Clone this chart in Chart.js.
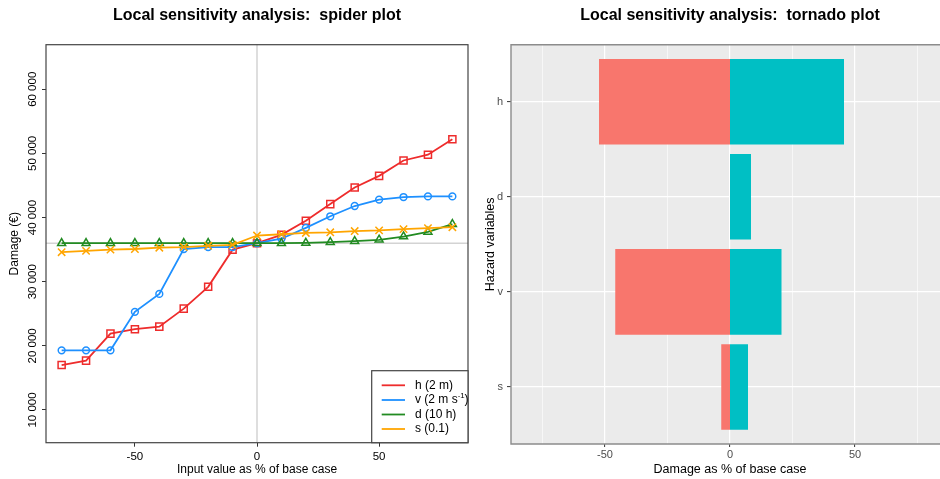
<!DOCTYPE html>
<html>
<head>
<meta charset="utf-8">
<script src="https://cdn.jsdelivr.net/npm/chart.js@4.4.1/dist/chart.umd.min.js"></script>
<style>
  html, body { margin: 0; padding: 0; background: #fff; }
  #wrap { position: relative; width: 940px; height: 479px; overflow: hidden; }
  #spiderBox { position: absolute; left: 0; top: 0; width: 470px; height: 479px; }
  #tornadoBox { position: absolute; left: 470px; top: 0; width: 470px; height: 479px; overflow: hidden; }
</style>
</head>
<body>
<div id="wrap">
  <div id="spiderBox"><canvas id="spider" width="470" height="479"></canvas></div>
  <div id="tornadoBox"><canvas id="tornado" width="479" height="479"></canvas></div>
</div>
<script>
const FONT = "'Liberation Sans', Arial, sans-serif";

// ---- spider plot data ----
const inputPct = [-80, -70, -60, -50, -40, -30, -20, -10, 0, 10, 20, 30, 40, 50, 60, 70, 80];
const hDamage = [17000, 17700, 21900, 22600, 23000, 25800, 29200, 35000, 36000, 37300, 39500, 42100, 44700, 46500, 48900, 49800, 52200];
const vDamage = [19300, 19300, 19300, 25300, 28100, 35100, 35400, 35400, 36000, 36700, 38400, 40200, 41800, 42800, 43200, 43300, 43300];
const dDamage = [36000, 36000, 36000, 36000, 36000, 36000, 36000, 36000, 36000, 36000, 36050, 36170, 36320, 36530, 37040, 37770, 38970];
const sDamage = [34600, 34800, 35000, 35100, 35300, 35400, 35600, 35750, 37200, 37400, 37600, 37700, 37900, 38000, 38200, 38350, 38500];
const seriesLabels = ['h (2 m)', 'v (2 m s^-1)', 'd (10 h)', 's (0.1)'];
const baseDamage = 36000;
const damageTicks = [10000, 20000, 30000, 40000, 50000, 60000];
const inputTicks = [-50, 0, 50];

// ---- tornado plot data ----
const hazardVars = ['h', 'd', 'v', 's'];
const lowPct = [-52.4, null, -45.9, -3.5];
const highPct = [45.6, 8.4, 20.6, 7.2];
const pctTicks = [-75, -50, -25, 0, 25, 50, 75];

const spiderTitle = 'Local sensitivity analysis:  spider plot';
const tornadoTitle = 'Local sensitivity analysis:  tornado plot';

const fmtThousands = v => String(v).replace(/\B(?=(\d{3})+(?!\d))/g, ' ');

// label text with optional "^sup" part
function drawRichText(ctx, text, x, y, size) {
  const m = text.match(/^(.*?)\^(\S+?)(\).*)?$/);
  ctx.font = `${size}px ${FONT}`;
  if (!m) { ctx.fillText(text, x, y); return; }
  ctx.fillText(m[1], x, y);
  let cx = x + ctx.measureText(m[1]).width;
  ctx.font = `${size * 0.65}px ${FONT}`;
  ctx.fillText(m[2], cx, y - size * 0.35);
  cx += ctx.measureText(m[2]).width;
  ctx.font = `${size}px ${FONT}`;
  ctx.fillText(m[3] || '', cx, y);
}

// bold title centred over the plot panel
const panelTitle = {
  id: 'panelTitle',
  afterDraw(chart, args, opts) {
    const { ctx, chartArea: a } = chart;
    ctx.save();
    ctx.fillStyle = '#000';
    ctx.font = `bold 16px ${FONT}`;
    ctx.textAlign = 'center';
    ctx.textBaseline = 'alphabetic';
    ctx.fillText(opts.text, (a.left + a.right) / 2, 19.5);
    ctx.restore();
  }
};

const spiderColors = ['#ee2c2c', '#1e90ff', '#228b22', '#ffa500'];
const spiderValues = [hDamage, vDamage, dDamage, sDamage];
const pointStyles = ['rect', 'circle', 'triangle', 'crossRot'];
const pointSizes = [5, 3.4, 4.6, 5.2];

const spiderExtras = {
  id: 'spiderExtras',
  beforeDatasetsDraw(chart) {
    const { ctx, chartArea: a, scales: { x, y } } = chart;
    const x0 = x.getPixelForValue(0), y0 = y.getPixelForValue(baseDamage);
    ctx.save();
    ctx.strokeStyle = '#d3d3d3';
    ctx.lineWidth = 1.5;
    ctx.beginPath();
    ctx.moveTo(x0, a.top); ctx.lineTo(x0, a.bottom);
    ctx.moveTo(a.left, y0); ctx.lineTo(a.right, y0);
    ctx.stroke();
    ctx.restore();
  },
  afterDraw(chart) {
    const { ctx, chartArea: a, scales: { y } } = chart;
    ctx.save();
    // box
    ctx.strokeStyle = '#444';
    ctx.lineWidth = 1.2;
    ctx.strokeRect(a.left, a.top, a.right - a.left, a.bottom - a.top);

    // rotated y tick labels
    ctx.fillStyle = '#000';
    ctx.font = `11.5px ${FONT}`;
    ctx.textAlign = 'center';
    ctx.textBaseline = 'middle';
    y.ticks.forEach(t => {
      ctx.save();
      ctx.translate(33, y.getPixelForValue(t.value));
      ctx.rotate(-Math.PI / 2);
      ctx.fillText(fmtThousands(t.value), 0, 0);
      ctx.restore();
    });

    // legend
    const bx = a.right - 96.3, by = a.bottom - 72;
    ctx.fillStyle = '#fff';
    ctx.fillRect(bx, by, a.right - bx, a.bottom - by);
    ctx.strokeStyle = '#444';
    ctx.strokeRect(bx, by, a.right - bx, a.bottom - by);
    const rows = [14.6, 29.3, 43.8, 58.3];
    ctx.textAlign = 'left';
    seriesLabels.forEach((lab, i) => {
      ctx.strokeStyle = spiderColors[i];
      ctx.lineWidth = 1.8;
      ctx.beginPath();
      ctx.moveTo(bx + 10, by + rows[i]);
      ctx.lineTo(bx + 33.3, by + rows[i]);
      ctx.stroke();
      ctx.fillStyle = '#000';
      drawRichText(ctx, lab, bx + 43.3, by + rows[i], 12);
    });
    ctx.restore();
  }
};

new Chart(document.getElementById('spider'), {
  type: 'line',
  data: {
    datasets: spiderValues.map((vals, i) => ({
      label: seriesLabels[i],
      data: inputPct.map((p, j) => ({ x: p, y: vals[j] })),
      borderColor: spiderColors[i],
      borderWidth: 1.8,
      pointStyle: pointStyles[i],
      pointRadius: pointSizes[i],
      pointBorderWidth: 1.5,
      pointBorderColor: spiderColors[i],
      pointBackgroundColor: 'rgba(0,0,0,0)',
      tension: 0,
      order: 4 - i
    }))
  },
  options: {
    responsive: false,
    animation: false,
    events: [],
    layout: { autoPadding: false, padding: { left: 0, right: 2, top: 44.7, bottom: 0 } },
    plugins: {
      legend: { display: false },
      tooltip: { enabled: false },
      title: { display: false },
      panelTitle: { text: spiderTitle }
    },
    scales: {
      x: {
        type: 'linear',
        min: -86.4,
        max: 86.4,
        afterBuildTicks: s => { s.ticks = inputTicks.map(v => ({ value: v })); },
        afterFit: s => { s.height = 36.3; s.paddingLeft = 0; s.paddingRight = 0; },
        grid: { drawOnChartArea: false, drawTicks: true, tickLength: 4, tickColor: '#333', tickWidth: 1 },
        border: { display: false },
        ticks: { color: '#000', font: { family: FONT, size: 11.5 }, padding: 2.8, maxRotation: 0 },
        title: {
          display: true, text: 'Input value as % of base case', color: '#000',
          font: { family: FONT, size: 12 }, padding: { top: 0, bottom: 1.8 }
        }
      },
      y: {
        type: 'linear',
        min: 4900,
        max: 66950,
        afterBuildTicks: s => { s.ticks = damageTicks.map(v => ({ value: v })); },
        afterFit: s => { s.width = 46; s.paddingTop = 0; s.paddingBottom = 0; },
        grid: { drawOnChartArea: false, drawTicks: true, tickLength: 4, tickColor: '#333', tickWidth: 1 },
        border: { display: false },
        ticks: { display: false },
        title: {
          display: true, text: 'Damage (€)', color: '#000',
          font: { family: FONT, size: 12 }, padding: { top: 7.8, bottom: 0 }
        }
      }
    }
  },
  plugins: [spiderExtras, panelTitle]
});

// ---- tornado ----
const varPos = i => hazardVars.length - i;

const tornadoExtras = {
  id: 'tornadoExtras',
  beforeDraw(chart) {
    const { ctx, chartArea: a } = chart;
    ctx.save();
    ctx.fillStyle = '#ebebeb';
    ctx.fillRect(a.left, a.top, a.right - a.left, a.bottom - a.top);
    ctx.restore();
  },
  afterDraw(chart) {
    const { ctx, chartArea: a } = chart;
    ctx.save();
    ctx.strokeStyle = '#8c8c8c';
    ctx.lineWidth = 1.4;
    ctx.beginPath();
    ctx.moveTo(a.right, a.top); ctx.lineTo(a.left, a.top);
    ctx.lineTo(a.left, a.bottom); ctx.lineTo(a.right, a.bottom);
    ctx.stroke();
    ctx.restore();
  }
};

new Chart(document.getElementById('tornado'), {
  type: 'bar',
  data: {
    datasets: [
      {
        label: 'low',
        data: hazardVars.map((v, i) => lowPct[i] == null ? null : { x: [0, lowPct[i]], y: varPos(i) }).filter(Boolean),
        backgroundColor: '#f8766d'
      },
      {
        label: 'high',
        data: hazardVars.map((v, i) => highPct[i] == null ? null : { x: [0, highPct[i]], y: varPos(i) }).filter(Boolean),
        backgroundColor: '#00bfc4'
      }
    ]
  },
  options: {
    indexAxis: 'y',
    responsive: false,
    animation: false,
    events: [],
    layout: { autoPadding: false, padding: { left: 0, right: 0, top: 44.7, bottom: 0 } },
    datasets: {
      bar: {
        grouped: false,
        barPercentage: 0.9,
        categoryPercentage: 1,
        borderWidth: 0,
        borderSkipped: false,
        // keep the two halves touching at 0 (no half-gridline gap)
        base: -1000
      }
    },
    plugins: {
      legend: { display: false },
      tooltip: { enabled: false },
      title: { display: false },
      panelTitle: { text: tornadoTitle }
    },
    scales: {
      x: {
        type: 'linear',
        min: -87.6,
        max: 87.6,
        offset: false,
        afterBuildTicks: s => { s.ticks = pctTicks.map(v => ({ value: v })); },
        afterFit: s => { s.height = 35; s.paddingLeft = 0; s.paddingRight = 0; },
        grid: {
          offset: false,
          color: '#fff',
          lineWidth: c => (c.tick && c.tick.value % 50 === 0) ? 1.2 : 0.6,
          tickColor: c => (c.tick && c.tick.value % 50 === 0) ? '#333' : 'rgba(0,0,0,0)',
          tickWidth: 1,
          tickLength: 3
        },
        border: { display: false },
        ticks: {
          color: '#4d4d4d',
          font: { family: FONT, size: 11 },
          padding: 1.4,
          maxRotation: 0,
          autoSkip: false,
          callback: v => v % 50 === 0 ? String(v) : ''
        },
        title: {
          display: true, text: 'Damage as % of base case', color: '#000',
          font: { family: FONT, size: 12.5 }, padding: { top: 0, bottom: 2.2 }
        }
      },
      y: {
        type: 'linear',
        min: 0.4,
        max: 4.6,
        offset: false,
        afterBuildTicks: s => { s.ticks = hazardVars.map((v, i) => ({ value: varPos(i) })); },
        afterFit: s => { s.width = 41; s.paddingTop = 0; s.paddingBottom = 0; },
        grid: { offset: false, color: '#fff', lineWidth: 1.2, tickColor: '#333', tickWidth: 1, tickLength: 4 },
        border: { display: false },
        ticks: {
          color: '#4d4d4d',
          font: { family: FONT, size: 11 },
          padding: 4,
          autoSkip: false,
          callback: v => hazardVars[hazardVars.length - v]
        },
        title: {
          display: true, text: 'Hazard variables', color: '#000',
          font: { family: FONT, size: 12.5 }, padding: { top: 13.5, bottom: 0 }
        }
      }
    }
  },
  plugins: [tornadoExtras, panelTitle]
});
</script>
</body>
</html>
